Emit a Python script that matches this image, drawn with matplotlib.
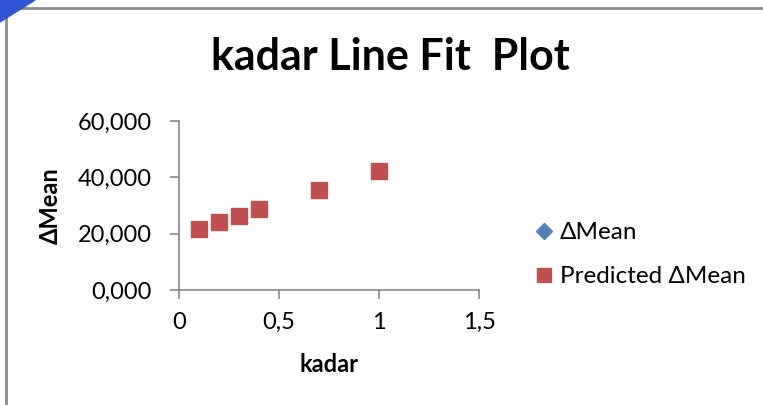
import numpy as np
import matplotlib.pyplot as plt
from matplotlib.lines import Line2D
from matplotlib.patches import Polygon, Rectangle

kadar = [0.1, 0.2, 0.3, 0.4, 0.7, 1.0]
mean_actual = [22.4, 23.4, 26.2, 28.8, 35.9, 41.6]
mean_pred = [21.8, 24.1, 26.3, 28.6, 35.4, 42.1]

xticks = [0, 0.5, 1, 1.5]
xlabels = ['0', '0,5', '1', '1,5']
yticks = [0, 20, 40, 60]
ylabels = ['0,000', '20,000', '40,000', '60,000']

blue = '#4F81BD'
red = '#C0504D'
grey = '#868686'

plt.rcParams['font.family'] = ['Lato', 'DejaVu Sans']

fig = plt.figure(figsize=(7.63, 4.05), dpi=100)
ax = fig.add_axes([179/763, 1-290/405, 300/763, 169/405])

ax.plot(kadar, mean_actual, 'D', color=blue, markersize=6.5)
ax.plot(kadar, mean_pred, 's', color=red, markersize=11)

ax.set_xlim(0, 1.5)
ax.set_ylim(0, 60)
ax.set_xticks(xticks)
ax.set_xticklabels(xlabels)
ax.set_yticks(yticks)
ax.set_yticklabels(ylabels)
ax.tick_params(axis='both', labelsize=17, color=grey, length=6.5, width=1.2)
ax.tick_params(axis='y', pad=13)
ax.tick_params(axis='x', pad=9.5)
for s in ['top', 'right']:
    ax.spines[s].set_visible(False)
for s in ['left', 'bottom']:
    ax.spines[s].set_color(grey)
    ax.spines[s].set_linewidth(1.2)

ax.set_xlabel('kadar', fontsize=17, fontweight='bold')
ax.set_ylabel('ΔMean', fontsize=17, fontweight='bold')
ax.xaxis.set_label_coords(0.5, -0.37)
ax.yaxis.set_label_coords(-0.39, 0.5)

fig.text(0.511, 1-70/405, 'kadar Line Fit  Plot', fontsize=31, fontweight='bold',
         ha='center', va='baseline')

handles = [Line2D([], [], ls='none', marker='D', color=blue, markersize=8),
           Line2D([], [], ls='none', marker='s', color=red, markersize=10)]
fig.legend(handles, ['ΔMean', 'Predicted ΔMean'], loc='upper left',
           bbox_to_anchor=(532/763, 1-222/405), frameon=False, fontsize=17.5,
           handletextpad=0.15, labelspacing=0.95, handlelength=1.0,
           borderpad=0, borderaxespad=0)

# chart border and corner decoration
fig.patches.append(Rectangle((6/763, -0.1), 2, 1.1 - 8/405, transform=fig.transFigure,
                             fill=False, edgecolor='#8c8c8c', linewidth=2))
fig.patches.append(Polygon([(0, 1), (35/763, 1), (0, 1-22/405)], closed=True,
                           transform=fig.transFigure, color='#2f55d4'))

fig.savefig('out.png', dpi=100)
